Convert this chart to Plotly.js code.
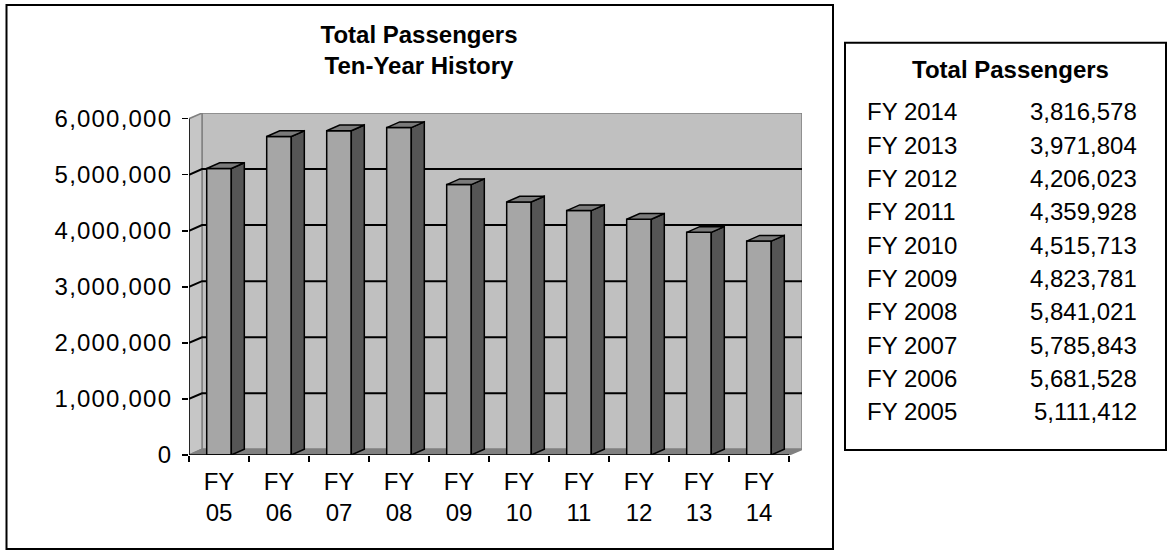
<!DOCTYPE html>
<html>
<head>
<meta charset="utf-8">
<script src="https://cdn.plot.ly/plotly-3.0.1.min.js"></script>
<style>
  html, body { margin: 0; padding: 0; background: #ffffff; }
  #chart { width: 1169px; height: 552px; }
  .ytick text { letter-spacing: 1.2px; }
</style>
</head>
<body>
<div id="chart"></div>
<script>
// Fiscal-year passenger totals, FY 2005 through FY 2014
const axisLabels = ['FY<br>05', 'FY<br>06', 'FY<br>07', 'FY<br>08', 'FY<br>09',
                    'FY<br>10', 'FY<br>11', 'FY<br>12', 'FY<br>13', 'FY<br>14'];
const fiscalYears = ['FY 2005', 'FY 2006', 'FY 2007', 'FY 2008', 'FY 2009',
                     'FY 2010', 'FY 2011', 'FY 2012', 'FY 2013', 'FY 2014'];
const passengers = [5111412, 5681528, 5785843, 5841021, 4823781,
                    4515713, 4359928, 4206023, 3971804, 3816578];
const yTicks = [0, 1000000, 2000000, 3000000, 4000000, 5000000, 6000000];

const chartTitle = 'Total Passengers<br>Ten-Year History';
const tableTitle = 'Total Passengers';

// ---- page geometry (pixels) ----
const W = 1169, H = 552;
const plotBox = { left: 189, right: 802, top: 113, bottom: 455 };
const FONT = 'Liberation Sans, Arial, Helvetica, sans-serif';

// pseudo-3D depth, expressed in axis units
const yMax = yTicks[yTicks.length - 1];
const n = passengers.length;
const DX = 0.217;          // depth along x (category units)
const DY = 101500;         // depth along y (value units)
const barW = 0.41;         // width of a bar's front face
const xLo = -0.5, xHi = n - 0.5;

const px = v => v / W;
const py = v => 1 - v / H;
const fmt = v => v.toLocaleString('en-US');

const outline = { color: '#000000', width: 1.5 };
const gridLine = { color: '#000000', width: 2 };
const wallEdge = { color: '#808080', width: 1.5 };

function poly(xs, ys, fillcolor, line) {
  return {
    type: 'scatter', mode: 'lines', fill: 'toself', fillcolor: fillcolor, line: line,
    x: xs.concat([xs[0]]), y: ys.concat([ys[0]]),
    hoverinfo: 'skip', showlegend: false
  };
}
function path(xs, ys, line) {
  return { type: 'scatter', mode: 'lines', x: xs, y: ys, line: line,
           hoverinfo: 'skip', showlegend: false };
}

const traces = [];

// back wall, left wall, floor
traces.push(poly([xLo + DX, xHi + DX, xHi + DX, xLo + DX], [DY, DY, yMax + DY, yMax + DY], '#c0c0c0', wallEdge));
traces.push(poly([xLo, xLo + DX, xLo + DX, xLo], [0, DY, yMax + DY, yMax], '#c6c6c6', wallEdge));
traces.push(poly([xLo, xHi, xHi + DX, xLo + DX], [0, 0, DY, DY], '#808080', wallEdge));

// gridlines on both walls
const gx = [], gy = [];
yTicks.slice(1, -1).forEach(t => {
  gx.push(xLo, xLo + DX, xHi + DX, null);
  gy.push(t, t + DY, t + DY, null);
});
traces.push(path(gx, gy, gridLine));

// bars: front, side and top faces
passengers.forEach((v, i) => {
  const l = i - barW / 2, r = i + barW / 2;
  traces.push(poly([l, r, r, l], [0, 0, v, v], '#a6a6a6', outline));
  traces.push(poly([r, r + DX, r + DX, r], [0, DY, v + DY, v], '#555555', outline));
  traces.push(poly([l, r, r + DX, l + DX], [v, v, v + DY, v + DY], '#7b7b7b', outline));
});

// front value and category axis lines
traces.push(path([xLo, xLo, xHi], [yMax, 0, 0], outline));

// chart frame and table frame
const shapes = [
  { type: 'rect', xref: 'paper', yref: 'paper',
    x0: px(6.5), x1: px(833), y0: py(549), y1: py(5),
    line: { color: '#000000', width: 2 } },
  { type: 'rect', xref: 'paper', yref: 'paper',
    x0: px(845), x1: px(1166), y0: py(450), y1: py(42.7),
    line: { color: '#000000', width: 2 } }
];

// ---- side table ----
const annotations = [{
  xref: 'paper', yref: 'paper', x: px(1011), y: py(69),
  xanchor: 'center', yanchor: 'middle', showarrow: false,
  text: '<b>' + tableTitle + '</b>', font: { family: FONT, size: 24, color: '#000000' }
}];
const rowTop = 111.7, rowStep = 33.33;
for (let k = 0; k < n; k++) {
  const i = n - 1 - k;
  const yy = py(rowTop + k * rowStep);
  annotations.push({ xref: 'paper', yref: 'paper', x: px(865), y: yy,
    xanchor: 'left', yanchor: 'middle', showarrow: false,
    text: fiscalYears[i], font: { family: FONT, size: 24, color: '#000000' } });
  annotations.push({ xref: 'paper', yref: 'paper', x: px(1139), y: yy,
    xanchor: 'right', yanchor: 'middle', showarrow: false,
    text: fmt(passengers[i]), font: { family: FONT, size: 24, color: '#000000' } });
}

const layout = {
  width: W, height: H, autosize: false,
  margin: { l: 0, r: 0, t: 0, b: 0, pad: 0 },
  paper_bgcolor: '#ffffff', plot_bgcolor: 'rgba(0,0,0,0)',
  font: { family: FONT, size: 24, color: '#000000' },
  title: {
    text: '<b>' + chartTitle + '</b>',
    x: px(419), xanchor: 'center', xref: 'paper',
    y: py(43), yanchor: 'top', yref: 'paper',
    font: { family: FONT, size: 24, color: '#000000' }
  },
  showlegend: false,
  hovermode: false,
  xaxis: {
    domain: [px(plotBox.left), px(plotBox.right)],
    range: [xLo, xHi + DX], fixedrange: true,
    tickmode: 'array', tickvals: passengers.map((_, i) => i), ticktext: axisLabels,
    ticks: '', ticklabelstandoff: 10,
    minor: { tickmode: 'array', tickvals: Array.from({ length: n + 1 }, (_, i) => i - 0.5),
             ticks: 'outside', ticklen: 6, tickwidth: 1.5, tickcolor: '#000000', showgrid: false },
    showgrid: false, zeroline: false, showline: false,
    tickfont: { family: FONT, size: 24, color: '#000000' }
  },
  yaxis: {
    domain: [1 - plotBox.bottom / H, 1 - plotBox.top / H],
    range: [0, yMax + DY], fixedrange: true,
    tickmode: 'array', tickvals: yTicks, ticktext: yTicks.map(fmt),
    ticks: 'outside', ticklen: 6, tickwidth: 1.5, tickcolor: '#000000',
    ticklabelstandoff: 5,
    showgrid: false, zeroline: false, showline: false,
    tickfont: { family: FONT, size: 24, color: '#000000' }
  },
  shapes: shapes,
  annotations: annotations
};

Plotly.newPlot('chart', traces, layout, { staticPlot: true, displayModeBar: false });
</script>
</body>
</html>
